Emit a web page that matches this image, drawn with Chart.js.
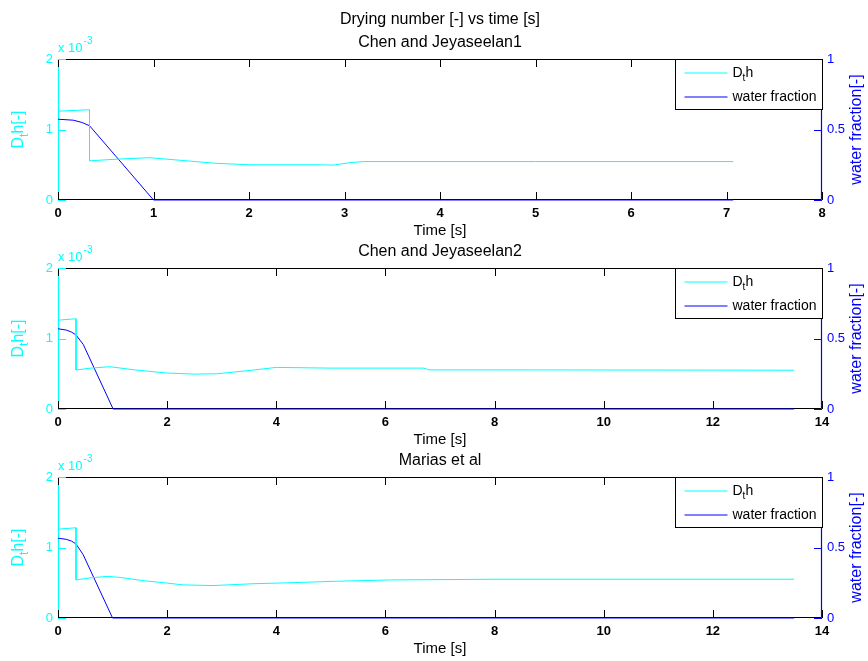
<!DOCTYPE html>
<html>
<head>
<meta charset="utf-8">
<script src="https://cdn.jsdelivr.net/npm/chart.js@4.4.0/dist/chart.umd.min.js"></script>
<style>
  body { margin: 0; background: #fff; width: 868px; height: 661px; position: relative; overflow: hidden; }
  canvas { position: absolute; left: 0; }
</style>
</head>
<body>
<canvas id="c1" width="868" height="245" style="top:0px"></canvas>
<canvas id="c2" width="868" height="245" style="top:209px"></canvas>
<canvas id="c3" width="868" height="245" style="top:418px"></canvas>
<script>
const mainTitle = 'Drying number [-] vs time [s]';
const plotTitles = ['Chen and Jeyaseelan1', 'Chen and Jeyaseelan2', 'Marias et al'];
const seriesNames = ['D_th', 'water fraction'];
const xLabel = 'Time [s]';
const yLeftLabel = 'D_th[-]';
const yRightLabel = 'water fraction[-]';
const xMax = [8, 14, 14];
const xStep = [1, 2, 2];

// D_t h values, in units of 1e-3
const dthTime1 = [0, 0.33, 0.33, 0.5, 0.7, 0.96, 1.31, 1.66, 2.01, 2.7, 2.88, 3.06, 3.2, 4, 5, 6, 7.07];
const dthVal1  = [1.26, 1.28, 0.555, 0.57, 0.585, 0.60, 0.56, 0.52, 0.50, 0.50, 0.495, 0.53, 0.545, 0.545, 0.545, 0.545, 0.545];
const dthTime2 = [0, 0.33, 0.33, 0.6, 0.95, 1.38, 1.99, 2.5, 2.91, 3.52, 4.0, 4.98, 6.7, 6.8, 8.1, 10, 12, 13.49];
const dthVal2  = [1.26, 1.28, 0.553, 0.58, 0.60, 0.557, 0.51, 0.495, 0.50, 0.547, 0.59, 0.58, 0.58, 0.555, 0.555, 0.553, 0.552, 0.55];
const dthTime3 = [0, 0.33, 0.33, 0.6, 0.9, 1.14, 1.56, 1.99, 2.29, 2.84, 3.57, 4.25, 5.04, 6.11, 8.1, 10, 12, 13.49];
const dthVal3  = [1.26, 1.28, 0.54, 0.57, 0.59, 0.576, 0.53, 0.496, 0.47, 0.46, 0.486, 0.50, 0.52, 0.54, 0.55, 0.55, 0.55, 0.55];

// water fraction
const wfTime1 = [0, 0.16, 0.25, 0.33, 0.61, 1.0, 7.07];
const wfVal1  = [0.573, 0.566, 0.55, 0.527, 0.307, 0, 0];
const wfTime2 = [0, 0.15, 0.25, 0.33, 0.464, 1.01, 13.49];
const wfVal2  = [0.569, 0.56, 0.545, 0.525, 0.457, 0, 0];
const wfTime3 = [0, 0.15, 0.25, 0.33, 0.46, 1.0, 13.49];
const wfVal3  = [0.566, 0.558, 0.545, 0.525, 0.45, 0, 0];

const dthTimes = [dthTime1, dthTime2, dthTime3];
const dthVals = [dthVal1, dthVal2, dthVal3];
const wfTimes = [wfTime1, wfTime2, wfTime3];
const wfVals = [wfVal1, wfVal2, wfVal3];

const FONT = '"Liberation Sans", Arial, Helvetica, sans-serif';
const CYAN = '#00ffff';
const BLUE = '#0000ff';

// draws text where "_x" makes x a subscript
function drawRich(ctx, text, x, y, size, align) {
  const parts = [];
  for (let i = 0; i < text.length; i++) {
    if (text[i] === '_' && i + 1 < text.length) { parts.push({ t: text[i + 1], sub: true }); i++; }
    else if (parts.length && !parts[parts.length - 1].sub) parts[parts.length - 1].t += text[i];
    else parts.push({ t: text[i], sub: false });
  }
  let total = 0;
  parts.forEach(p => {
    ctx.font = (p.sub ? Math.round(size * 0.72) : size) + 'px ' + FONT;
    p.w = ctx.measureText(p.t).width;
    total += p.w;
  });
  let cx = align === 'center' ? x - total / 2 : x;
  ctx.textAlign = 'left';
  ctx.textBaseline = 'middle';
  parts.forEach(p => {
    ctx.font = (p.sub ? Math.round(size * 0.72) : size) + 'px ' + FONT;
    ctx.fillText(p.t, cx, p.sub ? y + size * 0.38 : y);
    cx += p.w;
  });
}

const decor = {
  id: 'decor',
  beforeDatasetsDraw(chart) {
    const { ctx, chartArea: a } = chart;
    const L = Math.round(a.left) + 0.5, R = Math.round(a.right) - 0.5;
    const T = Math.round(a.top) + 0.5, B = Math.round(a.bottom) - 0.5;
    ctx.save();
    ctx.lineWidth = 1.2;
    ctx.strokeStyle = '#000';
    ctx.beginPath(); ctx.moveTo(L, T); ctx.lineTo(R, T); ctx.moveTo(L, B); ctx.lineTo(R, B); ctx.stroke();
    ctx.strokeStyle = CYAN;
    ctx.beginPath(); ctx.moveTo(L, T); ctx.lineTo(L, B); ctx.stroke();
    ctx.strokeStyle = BLUE;
    ctx.beginPath(); ctx.moveTo(R, T); ctx.lineTo(R, B); ctx.stroke();
    ctx.restore();
  },
  afterDatasetsDraw(chart, args, opts) {
    const { ctx, chartArea: a, scales } = chart;
    const L = a.left, R = a.right, T = a.top, B = a.bottom;
    const len = 8;
    ctx.save();
    ctx.lineWidth = 1;
    ctx.strokeStyle = '#000';
    ctx.beginPath();
    scales.x.ticks.forEach(t => {
      const px = Math.round(scales.x.getPixelForValue(t.value)) + 0.5;
      ctx.moveTo(px, T); ctx.lineTo(px, T + len);
      ctx.moveTo(px, B); ctx.lineTo(px, B - len);
    });
    ctx.stroke();
    ctx.strokeStyle = CYAN;
    ctx.beginPath();
    scales.y.ticks.forEach(t => {
      const py = Math.round(scales.y.getPixelForValue(t.value)) + 0.5;
      ctx.moveTo(L, py); ctx.lineTo(L + len, py);
    });
    ctx.stroke();
    ctx.strokeStyle = BLUE;
    ctx.beginPath();
    scales.y1.ticks.forEach(t => {
      const py = Math.round(scales.y1.getPixelForValue(t.value)) + 0.5;
      ctx.moveTo(R, py); ctx.lineTo(R - len, py);
    });
    ctx.stroke();

    // legend box
    const w = 147, h = 50;
    const x0 = Math.round(R - w) + 0.5, y0 = Math.round(T) + 0.5;
    ctx.fillStyle = '#fff';
    ctx.fillRect(x0, y0, w, h);
    ctx.strokeStyle = '#000';
    ctx.strokeRect(x0, y0, w, h);
    chart.data.datasets.forEach((ds, i) => {
      const ly = Math.round(T + 14 + i * 23.5);
      ctx.strokeStyle = ds.borderColor;
      ctx.beginPath(); ctx.moveTo(x0 + 9, ly); ctx.lineTo(x0 + 52, ly); ctx.stroke();
      ctx.fillStyle = '#000';
      drawRich(ctx, seriesNames[i], x0 + 57, ly, 14, 'left');
    });
    ctx.restore();
  },
  afterDraw(chart, args, opts) {
    const { ctx, chartArea: a } = chart;
    const cx = (a.left + a.right) / 2, cy = (a.top + a.bottom) / 2;
    ctx.save();
    ctx.fillStyle = '#000';
    ctx.textAlign = 'center';
    ctx.textBaseline = 'middle';
    if (opts.main) {
      ctx.font = '16px ' + FONT;
      ctx.fillText(mainTitle, cx, 20);
    }
    ctx.font = '16px ' + FONT;
    ctx.fillText(opts.title, cx, a.top - 16);
    ctx.font = '15px ' + FONT;
    ctx.fillText(xLabel, cx, a.bottom + 31);

    // exponent of the left axis
    ctx.fillStyle = CYAN;
    ctx.textAlign = 'left';
    ctx.font = '13px ' + FONT;
    ctx.fillText('x 10', a.left, a.top - 11);
    const ew = ctx.measureText('x 10').width;
    ctx.font = '10px ' + FONT;
    ctx.fillText('-3', a.left + ew + 1, a.top - 18);

    // left axis title
    ctx.save();
    ctx.translate(19, cy);
    ctx.rotate(-Math.PI / 2);
    ctx.fillStyle = CYAN;
    drawRich(ctx, yLeftLabel, 0, 0, 16, 'center');
    ctx.restore();

    // right axis title
    ctx.save();
    ctx.translate(857, cy);
    ctx.rotate(-Math.PI / 2);
    ctx.fillStyle = BLUE;
    ctx.textAlign = 'center';
    ctx.textBaseline = 'middle';
    ctx.font = '16px ' + FONT;
    ctx.fillText(yRightLabel, 0, 0);
    ctx.restore();
    ctx.restore();
  }
};

function toPoints(xs, ys, k) {
  return xs.map((x, i) => ({ x: x, y: ys[i] * k }));
}

for (let i = 0; i < 3; i++) {
  new Chart(document.getElementById('c' + (i + 1)), {
    type: 'line',
    data: {
      datasets: [
        {
          label: 'Dth',
          data: toPoints(dthTimes[i], dthVals[i], 1e-3),
          borderColor: CYAN,
          borderWidth: 1,
          pointRadius: 0,
          tension: 0,
          yAxisID: 'y',
          clip: 3
        },
        {
          label: 'water fraction',
          data: toPoints(wfTimes[i], wfVals[i], 1),
          borderColor: BLUE,
          borderWidth: 1,
          pointRadius: 0,
          tension: 0,
          yAxisID: 'y1',
          clip: 3
        }
      ]
    },
    options: {
      responsive: false,
      animation: false,
      layout: { padding: { top: 59, left: 0, right: 0, bottom: 0 } },
      plugins: {
        legend: { display: false },
        tooltip: { enabled: false },
        decor: { title: plotTitles[i], main: i === 0 }
      },
      scales: {
        x: {
          type: 'linear', min: 0, max: xMax[i],
          ticks: { stepSize: xStep[i], color: '#000', font: { family: FONT, size: 13, weight: 'bold' }, padding: 6, maxRotation: 0, autoSkip: false },
          grid: { display: false, drawTicks: false }, border: { display: false },
          afterFit(s) { s.height = 45; }
        },
        y: {
          position: 'left', min: 0, max: 2e-3,
          ticks: { stepSize: 1e-3, color: CYAN, font: { family: FONT, size: 13 }, padding: 5,
                   callback: v => String(Math.round(v * 1000)) },
          grid: { display: false, drawTicks: false }, border: { display: false },
          afterFit(s) { s.width = 58; }
        },
        y1: {
          position: 'right', min: 0, max: 1,
          ticks: { stepSize: 0.5, color: BLUE, font: { family: FONT, size: 13 }, padding: 5,
                   callback: v => String(v) },
          grid: { display: false, drawTicks: false }, border: { display: false },
          afterFit(s) { s.width = 46; }
        }
      }
    },
    plugins: [decor]
  });
}
</script>
</body>
</html>
